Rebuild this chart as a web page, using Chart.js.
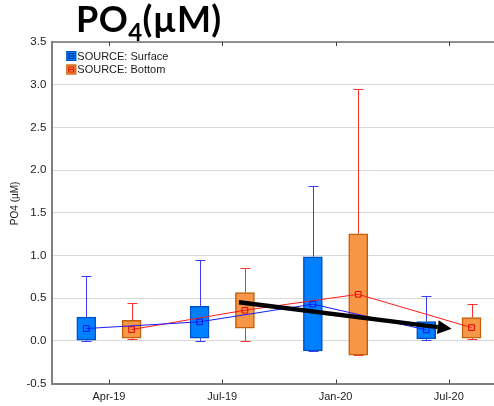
<!DOCTYPE html>
<html>
<head>
<meta charset="utf-8">
<script src="https://cdn.jsdelivr.net/npm/chart.js@4/dist/chart.umd.min.js"></script>
<style>
  html, body { margin: 0; padding: 0; background: #fff; width: 494px; height: 406px; overflow: hidden; }
  #wrap { position: relative; width: 494px; height: 406px; overflow: hidden; }
  #title { position: absolute; left: 76px; top: -4px; font-family: Lato, "Open Sans", sans-serif; font-weight: 700; font-size: 36px; color: #000; white-space: nowrap; letter-spacing: 0.4px; }
  #title sub { font-size: 24px; vertical-align: -9px; line-height: 0; }
  canvas { position: absolute; left: 0; top: 0; }
</style>
</head>
<body>
<div id="wrap">
  <canvas id="c" width="520" height="406"></canvas>
  <div id="title">PO<sub>4</sub>(µM)</div>
</div>
<script>
// Sampling campaigns
const categories = ['Apr-19', 'Jul-19', 'Jan-20', 'Jul-20'];

// Surface samples: whisker ends, box edges and means (µM)
const surfaceMin  = [0.00, 0.00, -0.117, 0.01];
const surfaceQ1   = [0.008, 0.03, -0.117, 0.023];
const surfaceQ3   = [0.277, 0.405, 0.985, 0.226];
const surfaceMax  = [0.76, 0.946, 1.815, 0.526];
const surfaceMean = [0.144, 0.222, 0.429, 0.128];

// Bottom samples
const bottomMin  = [0.02, 0.00, -0.167, 0.02];
const bottomQ1   = [0.03, 0.148, -0.167, 0.03];
const bottomQ3   = [0.24, 0.565, 1.254, 0.272];
const bottomMax  = [0.44, 0.849, 2.944, 0.432];
const bottomMean = [0.132, 0.358, 0.545, 0.155];

// Y axis ticks
const yTicks = [-0.5, 0, 0.5, 1, 1.5, 2, 2.5, 3, 3.5];
const yTitle = 'PO4 (µM)';

// Trend arrow (x in category units, y in µM)
const arrowFrom = [1.147, 0.452];
const arrowTo   = [3.025, 0.14];

const SURF_X = -0.2, BOT_X = 0.2;
const surfColor = '#0080ff', surfEdge = '#0050c8', surfLine = '#1a1aff', surfWhisker = '#3c3cff';
const botColor = '#f79646', botEdge = '#c0600a', botLine = '#ff1a1a', botWhisker = '#ff3030';
const FONT = '"Liberation Sans", Arial, sans-serif';

const boxData = (q1, q3, off) => q1.map((v, i) => ({ x: i + off, y: [v, q3[i]] }));
const ptData = (m, off) => m.map((v, i) => ({ x: i + off, y: v }));

const whiskerPlugin = {
  id: 'whiskers',
  beforeDatasetsDraw(chart) {
    const { ctx, scales: { x, y } } = chart;
    const sets = [
      [surfaceMin, surfaceQ1, surfaceQ3, surfaceMax, SURF_X, surfWhisker],
      [bottomMin, bottomQ1, bottomQ3, bottomMax, BOT_X, botWhisker]
    ];
    ctx.save();
    ctx.lineWidth = 1;
    sets.forEach(([mn, q1, q3, mx, off, col]) => {
      ctx.strokeStyle = col;
      categories.forEach((c, i) => {
        const px = Math.round(x.getPixelForValue(i + off)) + 0.5;
        const segs = [[q3[i], mx[i]], [q1[i], mn[i]]];
        segs.forEach(([a, b]) => {
          const pa = y.getPixelForValue(a), pb = y.getPixelForValue(b);
          ctx.beginPath();
          ctx.moveTo(px, pa); ctx.lineTo(px, pb);
          ctx.moveTo(px - 5, Math.round(pb) + 0.5); ctx.lineTo(px + 5, Math.round(pb) + 0.5);
          ctx.stroke();
        });
      });
    });
    ctx.restore();
  },
  afterDatasetsDraw(chart) {
    const { ctx, chartArea: a, scales: { x, y } } = chart;
    ctx.save();
    // trend arrow
    const x0 = x.getPixelForValue(arrowFrom[0]), y0 = y.getPixelForValue(arrowFrom[1]);
    const x1 = x.getPixelForValue(arrowTo[0]), y1 = y.getPixelForValue(arrowTo[1]);
    const ang = Math.atan2(y1 - y0, x1 - x0);
    const headLen = 14, headHalf = 7;
    const bx = x1 - headLen * Math.cos(ang), by = y1 - headLen * Math.sin(ang);
    ctx.strokeStyle = '#000'; ctx.fillStyle = '#000'; ctx.lineWidth = 4.5;
    ctx.beginPath(); ctx.moveTo(x0, y0); ctx.lineTo(bx, by); ctx.stroke();
    ctx.beginPath();
    ctx.moveTo(x1, y1);
    ctx.lineTo(bx + headHalf * Math.sin(ang), by - headHalf * Math.cos(ang));
    ctx.lineTo(bx - headHalf * Math.sin(ang), by + headHalf * Math.cos(ang));
    ctx.closePath(); ctx.fill();

    // frame: top border and category tick marks
    ctx.strokeStyle = '#707070'; ctx.lineWidth = 1.5;
    ctx.beginPath(); ctx.moveTo(a.left, a.top); ctx.lineTo(a.right + 20, a.top); ctx.stroke();
    ctx.strokeStyle = '#404040'; ctx.lineWidth = 1;
    categories.forEach((c, i) => {
      const px = Math.round(x.getPixelForValue(i)) + 0.5;
      ctx.beginPath();
      ctx.moveTo(px, a.bottom); ctx.lineTo(px, a.bottom - 4);
      ctx.moveTo(px, a.top); ctx.lineTo(px, a.top + 4);
      ctx.stroke();
    });

    // y axis title
    ctx.save();
    ctx.translate(15, y.getPixelForValue(1.61));
    ctx.rotate(-Math.PI / 2);
    ctx.font = '10px ' + FONT;
    ctx.fillStyle = '#222';
    ctx.textAlign = 'center';
    ctx.textBaseline = 'middle';
    ctx.fillText(yTitle, 0, 0);
    ctx.restore();

    // legend
    const items = [['SOURCE: Surface', surfColor, surfEdge, '#0030a0'], ['SOURCE: Bottom', botColor, botEdge, '#e00000']];
    ctx.font = '11px ' + FONT;
    ctx.textBaseline = 'middle';
    items.forEach(([txt, fill, edge, mark], k) => {
      const lx = a.left + 14, ly = a.top + 9 + k * 13.5;
      ctx.fillStyle = fill; ctx.fillRect(lx, ly, 10, 10);
      ctx.strokeStyle = edge; ctx.lineWidth = 1; ctx.strokeRect(lx + 0.5, ly + 0.5, 9, 9);
      ctx.strokeStyle = mark; ctx.strokeRect(lx + 2.5, ly + 2.5, 5, 5);
      ctx.beginPath(); ctx.moveTo(lx + 2.5, ly + 5); ctx.lineTo(lx + 7.5, ly + 5); ctx.stroke();
      ctx.fillStyle = '#1a1a1a';
      ctx.fillText(txt, lx + 11, ly + 5.5);
    });
    ctx.restore();
  }
};

new Chart(document.getElementById('c'), {
  data: {
    datasets: [
      { type: 'bar', label: 'SOURCE: Surface', data: boxData(surfaceQ1, surfaceQ3, SURF_X),
        backgroundColor: surfColor, borderColor: surfEdge, borderWidth: 1.5, borderSkipped: false,
        barThickness: 19, grouped: false, order: 3 },
      { type: 'bar', label: 'SOURCE: Bottom', data: boxData(bottomQ1, bottomQ3, BOT_X),
        backgroundColor: botColor, borderColor: botEdge, borderWidth: 1.5, borderSkipped: false,
        barThickness: 19, grouped: false, order: 3 },
      { type: 'line', label: 'Surface mean', data: ptData(surfaceMean, SURF_X),
        borderColor: surfLine, borderWidth: 1, pointStyle: 'rect', pointRadius: 4,
        pointBackgroundColor: 'rgba(0,0,0,0)', pointBorderColor: '#1010e0', pointBorderWidth: 1, order: 1 },
      { type: 'line', label: 'Bottom mean', data: ptData(bottomMean, BOT_X),
        borderColor: botLine, borderWidth: 1, pointStyle: 'rect', pointRadius: 4,
        pointBackgroundColor: 'rgba(0,0,0,0)', pointBorderColor: '#e00000', pointBorderWidth: 1, order: 1 }
    ]
  },
  options: {
    responsive: false,
    animation: false,
    layout: { padding: { top: 42, right: 14.5, left: 0, bottom: 0 } },
    plugins: { legend: { display: false }, tooltip: { enabled: false } },
    scales: {
      x: {
        type: 'linear', min: -0.5, max: 3.5, offset: false,
        afterBuildTicks: s => { s.ticks = categories.map((c, i) => ({ value: i })); },
        afterFit: s => { s.height = 22.5; },
        ticks: { callback: v => categories[v] ?? '', padding: 7, maxRotation: 0, autoSkip: false,
                 color: '#222', font: { family: FONT, size: 11 } },
        grid: { display: false, drawTicks: false, offset: false },
        border: { color: '#808080', width: 2 }
      },
      y: {
        min: -0.5, max: 3.5,
        afterBuildTicks: s => { s.ticks = yTicks.map(v => ({ value: v })); },
        afterFit: s => { s.width = 52.3; },
        ticks: { callback: v => Number(v).toFixed(1), padding: 6,
                 color: '#222', font: { family: FONT, size: 11.5 } },
        grid: { color: '#d9d9d9', lineWidth: 1, drawTicks: false },
        border: { color: '#808080', width: 2 }
      }
    }
  },
  plugins: [whiskerPlugin]
});
</script>
</body>
</html>
